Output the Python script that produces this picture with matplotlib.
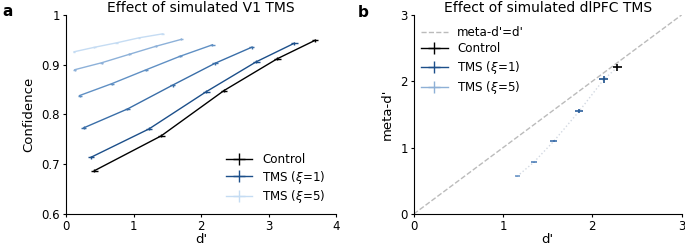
import matplotlib
matplotlib.use("Agg")
import matplotlib.pyplot as plt
import numpy as np

# ---------------- data ----------------
series_labels = ["Control", "TMS ($\\xi$=1)", "TMS ($\\xi$=2)", "TMS ($\\xi$=3)", "TMS ($\\xi$=4)", "TMS ($\\xi$=5)"]
colors = ["#000000", "#1c4f8a", "#3a6ea8", "#6090c4", "#8db1d9", "#c5dcf3"]

# Panel a: d' and confidence per series
d_control = [0.42, 1.41, 2.34, 3.13, 3.69]
c_control = [0.687, 0.757, 0.848, 0.912, 0.949]
d_xi1 = [0.37, 1.23, 2.08, 2.82, 3.38]
c_xi1 = [0.714, 0.771, 0.846, 0.906, 0.943]
d_xi2 = [0.26, 0.91, 1.58, 2.21, 2.75]
c_xi2 = [0.773, 0.811, 0.859, 0.903, 0.935]
d_xi3 = [0.20, 0.68, 1.19, 1.69, 2.17]
c_xi3 = [0.838, 0.862, 0.890, 0.917, 0.940]
d_xi4 = [0.13, 0.53, 0.94, 1.33, 1.71]
c_xi4 = [0.890, 0.904, 0.921, 0.937, 0.951]
d_xi5 = [0.12, 0.42, 0.75, 1.08, 1.43]
c_xi5 = [0.926, 0.935, 0.944, 0.954, 0.962]
d_err_a = [0.05, 0.05, 0.04, 0.03, 0.025, 0.02]
c_err_a = [0.003, 0.003, 0.003, 0.002, 0.002, 0.001]

# Panel b: d' and meta-d'
d_b = [2.28, 2.13, 1.85, 1.57, 1.345, 1.16]
meta_b = [2.21, 2.03, 1.545, 1.10, 0.78, 0.57]
d_err_b = [0.05, 0.05, 0.045, 0.04, 0.035, 0.03]
meta_err_b = [0.05, 0.05, 0.03, 0.02, 0.01, 0.005]
colors_b = ["#000000", "#1c4f8a", "#2b5f9c", "#3d70ab", "#5584bb", "#7099c8"]
colors_b_legend = ["#000000", "#1c4f8a", "#8eb0d6"]

a_x = [d_control, d_xi1, d_xi2, d_xi3, d_xi4, d_xi5]
a_y = [c_control, c_xi1, c_xi2, c_xi3, c_xi4, c_xi5]

plt.rcParams['font.family'] = ['DejaVu Sans']
fig = plt.figure(figsize=(6.85, 2.45), dpi=100)
axa = fig.add_axes([0.0964, 0.1265, 0.3941, 0.8125])
axb = fig.add_axes([0.604, 0.1265, 0.391, 0.8125])

tfs = 10
lfs = 9.5
kfs = 8.5
gfs = 8.6

handles_a = []
for i in range(6):
    h = axa.errorbar(a_x[i], a_y[i], xerr=d_err_a[i], yerr=c_err_a[i],
                     color=colors[i], lw=1.0, elinewidth=1.0, capsize=0,
                     label=series_labels[i])
    handles_a.append(h)
axa.set_xlim(0, 4)
axa.set_ylim(0.6, 1.0)
axa.set_xticks([0, 1, 2, 3, 4])
axa.set_yticks([0.6, 0.7, 0.8, 0.9, 1.0])
axa.set_yticklabels(["0.6", "0.7", "0.8", "0.9", "1"])
axa.set_xlabel("d'", fontsize=lfs, labelpad=0)
axa.set_ylabel("Confidence", fontsize=lfs, labelpad=4.5)
axa.set_title("Effect of simulated V1 TMS", fontsize=tfs, pad=2)
axa.tick_params(labelsize=kfs, length=2.5, pad=1.8)
for s in ["top", "right"]:
    axa.spines[s].set_visible(False)
axa.legend([handles_a[0], handles_a[1], handles_a[5]],
           [series_labels[0], series_labels[1], series_labels[5]],
           loc="lower right", frameon=False, fontsize=gfs, handlelength=2.2,
           labelspacing=0.22, bbox_to_anchor=(1.0, -0.01))

# Panel b
diag = [0, 3]
hd, = axb.plot(diag, diag, ls="--", color="#bbbbbb", lw=1.0)
axb.plot(d_b, meta_b, ls=":", color="#d3d9e2", lw=1.0)
for i in range(6):
    axb.errorbar([d_b[i]], [meta_b[i]], xerr=d_err_b[i], yerr=meta_err_b[i],
                 color=colors_b[i], lw=1.0, elinewidth=1.2, capsize=0, fmt="none")
leg_handles_b = [hd]
for c in colors_b_legend:
    h = axb.errorbar([np.nan], [np.nan], xerr=[0.1], yerr=[0.1], color=c,
                     lw=1.0, elinewidth=1.0, capsize=0)
    leg_handles_b.append(h)
axb.set_xlim(0, 3)
axb.set_ylim(0, 3)
axb.set_xticks([0, 1, 2, 3])
axb.set_yticks([0, 1, 2, 3])
axb.set_xlabel("d'", fontsize=lfs, labelpad=0)
axb.set_ylabel("meta-d'", fontsize=lfs, labelpad=4.5)
axb.set_title("Effect of simulated dlPFC TMS", fontsize=tfs, pad=2)
axb.tick_params(labelsize=kfs, length=2.5, pad=1.8)
for s in ["top", "right"]:
    axb.spines[s].set_visible(False)

axb.legend(leg_handles_b,
           ["meta-d'=d'", series_labels[0], series_labels[1], series_labels[5]],
           loc="upper left", frameon=False, fontsize=gfs, handlelength=2.2,
           labelspacing=0.3, bbox_to_anchor=(-0.012, 1.0))

fig.text(0.003, 0.935, "a", fontsize=11, fontweight="bold")
fig.text(0.522, 0.93, "b", fontsize=11, fontweight="bold")

fig.savefig("out.png", dpi=100)
